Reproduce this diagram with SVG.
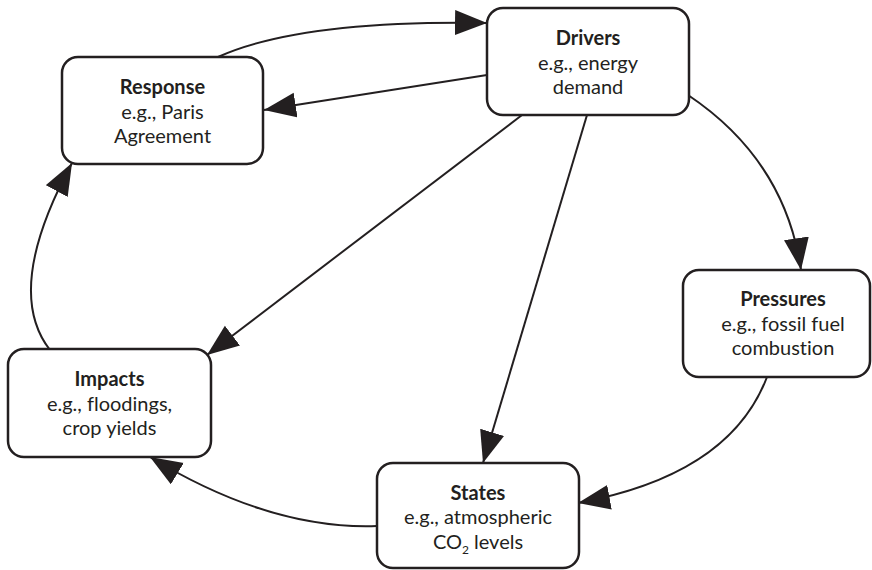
<svg xmlns="http://www.w3.org/2000/svg" width="872" height="570" viewBox="0 0 872 570">
<style>
.box{fill:#fff;stroke:#231f20;stroke-width:2.5}
.t{font-family:Lato,"Open Sans",sans-serif;font-size:20px;fill:#231f20;text-anchor:middle;font-variant-ligatures:none}
.b{font-weight:bold}
.c{fill:none;stroke:#231f20;stroke-width:2}
</style>
<defs>
<marker id="ah" markerUnits="userSpaceOnUse" markerWidth="33" markerHeight="26" refX="32" refY="12.5" orient="auto">
<path d="M0,0 L32,12.5 L0,25 z" fill="#231f20"/>
</marker>
</defs>
<rect width="872" height="570" fill="#fff"/>
<g id="connectors">
<path class="c" d="M218,57 Q300,20 487,23" marker-end="url(#ah)"/>
<path class="c" d="M487,75 L264,110" marker-end="url(#ah)"/>
<path class="c" d="M522,115 L207,355" marker-end="url(#ah)"/>
<path class="c" d="M587,115 L483,463" marker-end="url(#ah)"/>
<path class="c" d="M688,95 Q785,160 801,270" marker-end="url(#ah)"/>
<path class="c" d="M767,377 Q730,475 578,503" marker-end="url(#ah)"/>
<path class="c" d="M377,526 Q270,530 150,457" marker-end="url(#ah)"/>
<path class="c" d="M50,350 Q3,290 72,163" marker-end="url(#ah)"/>
</g>
<g id="drivers">
<rect class="box" x="487" y="8" width="202" height="107" rx="16"/>
<text class="t b" x="588" y="45">Drivers</text>
<text class="t" x="588" y="69.5">e.g., energy</text>
<text class="t" x="588" y="94">demand</text>
</g>
<g id="response">
<rect class="box" x="62" y="57" width="201" height="107" rx="16"/>
<text class="t b" x="162.5" y="94">Response</text>
<text class="t" x="162.5" y="118.5">e.g., Paris</text>
<text class="t" x="162.5" y="143">Agreement</text>
</g>
<g id="pressures">
<rect class="box" x="683" y="270" width="187" height="107" rx="16"/>
<text class="t b" x="783" y="306">Pressures</text>
<text class="t" x="783" y="330.5">e.g., fossil fuel</text>
<text class="t" x="783" y="355">combustion</text>
</g>
<g id="impacts">
<rect class="box" x="8" y="349" width="203" height="108" rx="16"/>
<text class="t b" x="109.5" y="386">Impacts</text>
<text class="t" x="109.5" y="410.5">e.g., floodings,</text>
<text class="t" x="109.5" y="435">crop yields</text>
</g>
<g id="states">
<rect class="box" x="377" y="463" width="202" height="105" rx="16"/>
<text class="t b" x="478" y="500">States</text>
<text class="t" x="478" y="524">e.g., atmospheric</text>
<text class="t" x="478" y="548.5">CO<tspan font-size="12" dy="5">2</tspan><tspan dy="-5"> levels</tspan></text>
</g>
</svg>
